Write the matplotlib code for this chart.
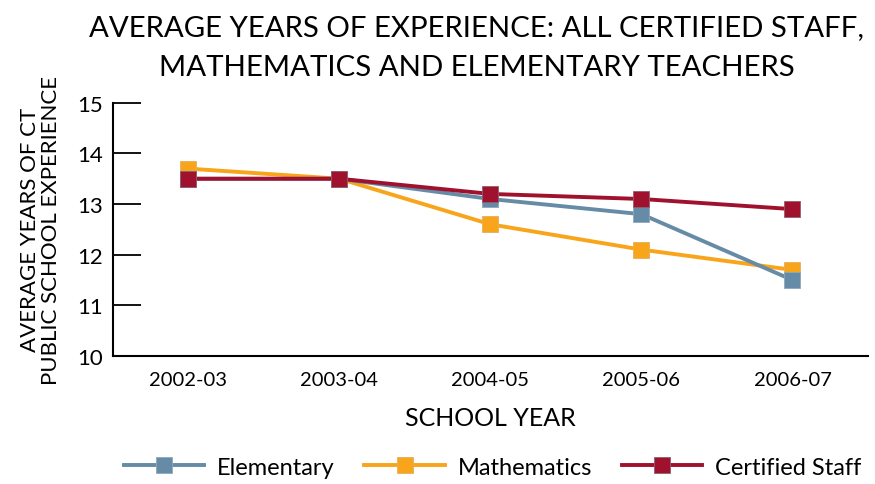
import matplotlib.pyplot as plt

years = ['2002-03', '2003-04', '2004-05', '2005-06', '2006-07']
elementary = [13.5, 13.5, 13.1, 12.8, 11.5]
mathematics = [13.7, 13.5, 12.6, 12.1, 11.7]
certified = [13.5, 13.5, 13.2, 13.1, 12.9]

plt.rcParams['font.family'] = ['Lato', 'DejaVu Sans']

fig = plt.figure(figsize=(8.75, 4.85), dpi=100)
ax = fig.add_axes([0.129, 0.264, 0.863, 0.522])

x = list(range(len(years)))
style = dict(marker='s', markersize=11, linewidth=2.8, markeredgewidth=0.6)
l2, = ax.plot(x, mathematics, color='#F9A51B', markeredgecolor='#E0B060', label='Mathematics', zorder=3, **style)
l1, = ax.plot(x, elementary, color='#668BA6', markeredgecolor='#8FA8BC', label='Elementary', zorder=4, **style)
l3, = ax.plot(x, certified, color='#A0112E', markeredgecolor='#8F6070', label='Certified Staff', zorder=5, **style)

ax.set_xlim(-0.5, 4.5)
ax.set_ylim(10, 15)
ax.set_xticks(x)
ax.set_xticklabels(years, fontsize=14.5)
ax.set_yticks([10, 11, 12, 13, 14, 15])
ax.tick_params(axis='x', length=0, pad=11)
ax.tick_params(axis='y', direction='in', length=20, width=1.3, labelsize=16, pad=7)
for side in ['top', 'right']:
    ax.spines[side].set_visible(False)
ax.spines['left'].set_linewidth(1.5)
ax.spines['bottom'].set_linewidth(1.5)

ax.set_xlabel('SCHOOL YEAR', fontsize=18, labelpad=13)
ax.set_ylabel('AVERAGE YEARS OF CT\nPUBLIC SCHOOL EXPERIENCE', fontsize=16, labelpad=12, linespacing=1.05)

fig.text(0.545, 0.901, 'AVERAGE YEARS OF EXPERIENCE: ALL CERTIFIED STAFF,\nMATHEMATICS AND ELEMENTARY TEACHERS',
         ha='center', va='center', fontsize=21.2, linespacing=1.7)

fig.legend(handles=[l1, l2, l3], loc='center', bbox_to_anchor=(0.563, 0.035), ncol=3, frameon=False,
           fontsize=17, handlelength=3.4, columnspacing=1.25, handletextpad=0.55)

fig.savefig('out.png', dpi=100)
